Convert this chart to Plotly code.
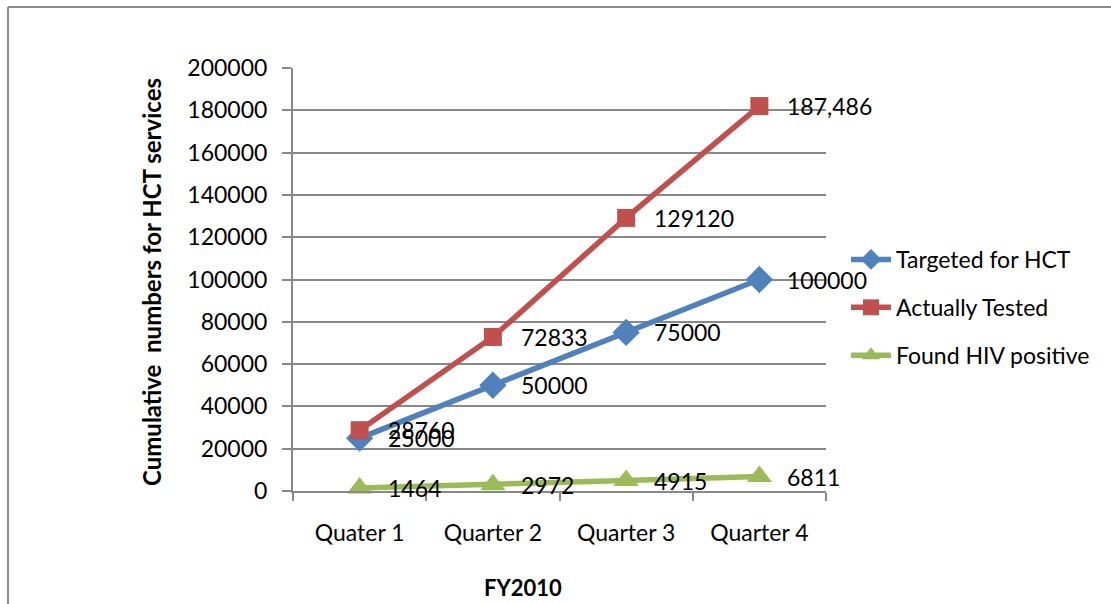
import plotly.graph_objects as go

categories = ["Quater 1", "Quarter 2", "Quarter 3", "Quarter 4"]
targeted = [25000, 50000, 75000, 100000]
tested = [28760, 72833, 129120, 182000]
positive = [1464, 2972, 4915, 6811]
targeted_labels = ["25000", "50000", "75000", "100000"]
tested_labels = ["28760", "72833", "129120", "187,486"]
positive_labels = ["1464", "2972", "4915", "6811"]
y_ticks = [0, 20000, 40000, 60000, 80000, 100000, 120000, 140000, 160000, 180000, 200000]

FONT = "Lato, Calibri, sans-serif"
BLUE, RED, GREEN = "#4F81BD", "#C0504D", "#9BBB59"
GRID = "#888888"

W, H = 1111, 604
L, R, T, B = 293, 826, 68, 491
pw, ph = R - L, B - T

def px(x):
    return (x - L) / pw

def py(y):
    return (B - y) / ph

fig = go.Figure()
series = [
    ("Targeted for HCT", targeted, BLUE, "diamond", 21),
    ("Actually Tested", tested, RED, "square", 18),
    ("Found HIV positive", positive, GREEN, "triangle-up", 22),
]
for i, (name, vals, col, sym, sz) in enumerate(series):
    fig.add_trace(go.Scatter(
        x=categories, y=vals, name=name, mode="lines+markers",
        line=dict(color=col, width=5.5),
        marker=dict(symbol=sym, size=sz, color=col),
        legendgroup=f"g{i}",
        cliponaxis=False,
    ))

for vals, labels in [(targeted, targeted_labels), (tested, tested_labels), (positive, positive_labels)]:
    for c, v, t in zip(categories, vals, labels):
        fig.add_annotation(x=c, y=v, text=t, showarrow=False, xanchor="left",
                           yanchor="middle", xshift=26, yshift=0,
                           font=dict(family=FONT, size=23, color="black"))

fig.add_annotation(xref="paper", yref="paper", x=px(151), y=py(282),
                   text="<b>Cumulative\u00a0 numbers for HCT services</b>", textangle=-90,
                   showarrow=False, xanchor="center", yanchor="middle",
                   font=dict(family=FONT, size=24, color="black"))
fig.add_annotation(xref="paper", yref="paper", x=px(523), y=py(587),
                   text="<b>FY2010</b>", showarrow=False, xanchor="center", yanchor="middle",
                   font=dict(family=FONT, size=22, color="black"))

# outer border of the embedded chart
fig.add_shape(type="line", xref="paper", yref="paper", x0=px(8), x1=px(8), y0=py(7), y1=py(620),
              line=dict(color="#8c8c8c", width=2))
fig.add_shape(type="line", xref="paper", yref="paper", x0=px(8), x1=px(1120), y0=py(7), y1=py(7),
              line=dict(color="#8c8c8c", width=2))

fig.update_layout(
    width=W, height=H,
    margin=dict(l=L, r=W - R, t=T, b=H - B, pad=0),
    paper_bgcolor="white", plot_bgcolor="white",
    font=dict(family=FONT, size=23, color="black"),
    showlegend=True,
    legend=dict(x=px(846), y=py(238), xanchor="left", yanchor="top",
                font=dict(family=FONT, size=23, color="black"),
                tracegroupgap=15, bgcolor="rgba(0,0,0,0)", itemwidth=40),
)
fig.update_xaxes(
    type="category", range=[-0.5, 3.5], showgrid=False,
    showline=True, linecolor=GRID, linewidth=2,
    ticks="outside", tickson="boundaries", ticklen=8, tickcolor=GRID, tickwidth=2,
    ticklabelstandoff=20, tickfont=dict(family=FONT, size=23),
)
fig.update_yaxes(
    range=[0, 200000], tickvals=y_ticks, ticktext=[str(v) for v in y_ticks],
    showgrid=True, gridcolor=GRID, gridwidth=1.5,
    showline=True, linecolor=GRID, linewidth=2, zeroline=False,
    ticks="outside", ticklen=9, tickcolor=GRID, tickwidth=1.5,
    ticklabelstandoff=10, tickfont=dict(family=FONT, size=23),
)

fig.write_html("out.html")
